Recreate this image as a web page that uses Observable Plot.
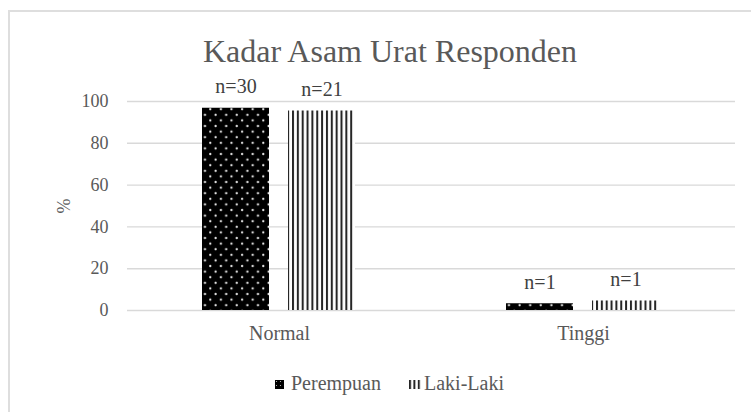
<!DOCTYPE html>
<html>
<head>
<meta charset="utf-8">
<script src="https://cdn.jsdelivr.net/npm/d3@7"></script>
<script src="https://cdn.jsdelivr.net/npm/@observablehq/plot@0.6"></script>
<style>
  html, body { margin: 0; padding: 0; background: #fff; }
  #wrap { position: relative; width: 751px; height: 412px; overflow: hidden; font-family: "Liberation Serif", "Times New Roman", Tinos, "DejaVu Serif", serif; color: #595959; }
  #frame { position: absolute; left: 8px; top: 10px; width: 800px; height: 500px; border: 2px solid #dedede; box-sizing: border-box; }
  #title { position: absolute; left: 0; top: 35px; width: 780px; text-align: center; font-size: 32px; line-height: 32px; color: #595959; }
  #chart { position: absolute; left: 0; top: 0; }
  .leg { position: absolute; top: 373px; font-size: 20px; line-height: 20px; color: #595959; white-space: nowrap; }
  .sw { position: absolute; top: 380px; }
</style>
</head>
<body>
<svg width="0" height="0" style="position:absolute">
  <defs>
    <pattern id="dots" patternUnits="userSpaceOnUse" width="10.6" height="11.2">
      <rect width="10.6" height="11.2" fill="#000"/>
      <circle cx="2.6" cy="2.8" r="1.15" fill="#e6e6e6"/>
      <circle cx="7.9" cy="8.4" r="1.15" fill="#e6e6e6"/>
    </pattern>
    <pattern id="stripes" patternUnits="userSpaceOnUse" width="4.85" height="10">
      <rect width="4.85" height="10" fill="#fff"/>
      <rect x="0" width="2" height="10" fill="#262626"/>
    </pattern>
    <pattern id="dotsSw" patternUnits="userSpaceOnUse" width="4" height="4">
      <rect width="4" height="4" fill="#000"/>
      <circle cx="1.5" cy="1.5" r="0.6" fill="#ccc"/>
    </pattern>
    <pattern id="stripesSw" patternUnits="userSpaceOnUse" width="4.4" height="10">
      <rect width="4.4" height="10" fill="#fff"/>
      <rect x="0" width="2" height="10" fill="#262626"/>
    </pattern>
  </defs>
</svg>
<div id="wrap">
  <div id="frame"></div>
  <div id="chart"></div>
  <div id="title">Kadar Asam Urat Responden</div>
  <svg class="sw" style="left:275px" width="9" height="9"><rect width="9" height="9" fill="url(#dotsSw)"/></svg>
  <div class="leg" style="left:291px">Perempuan</div>
  <svg class="sw" style="left:409px" width="13" height="9"><rect width="13" height="9" fill="url(#stripesSw)"/></svg>
  <div class="leg" style="left:424px">Laki-Laki</div>
</div>
<script>
const categories = ["Normal", "Tinggi"];
const series = ["Perempuan", "Laki-Laki"];
const perempuan = [96.77, 3.23];
const lakiLaki = [95.45, 4.55];
const perempuanN = [30, 1];
const lakiLakiN = [21, 1];
const yTicks = [0, 20, 40, 60, 80, 100];

const rows = categories.flatMap((c, i) => [
  {category: c, series: series[0], value: perempuan[i], n: perempuanN[i]},
  {category: c, series: series[1], value: lakiLaki[i], n: lakiLakiN[i]}
]);

const chart = Plot.plot({
  width: 751,
  height: 412,
  marginLeft: 126,
  marginRight: 16,
  marginTop: 101,
  marginBottom: 102,
  style: {fontFamily: "'Liberation Serif', 'Times New Roman', Tinos, 'DejaVu Serif', serif", fontSize: "18px", color: "#595959", background: "transparent", overflow: "visible"},
  fx: {domain: categories, padding: 0, label: null},
  x: {domain: series, paddingInner: 0.218, paddingOuter: 0.859, axis: null},
  y: {domain: [0, 100], ticks: yTicks, label: "%"},
  color: {domain: series, range: ["url(#dots)", "url(#stripes)"]},
  marks: [
    Plot.ruleY(yTicks, {stroke: "#d9d9d9", strokeWidth: 1.4}),
    Plot.axisY({ticks: yTicks, tickSize: 0, tickPadding: 19, label: "%", labelAnchor: "center", labelArrow: "none", labelOffset: 70, fontSize: 18, fill: "#595959"}),
    Plot.axisFx({anchor: "bottom", tickSize: 0, tickPadding: 15, label: null, fontSize: 20, fill: "#595959"}),
    Plot.barY(rows, {fx: "category", x: "series", y: "value", fill: "series"}),
    Plot.text(rows, {fx: "category", x: "series", y: "value", text: d => "n=" + d.n, dy: -15, lineAnchor: "bottom", fontSize: 20, fill: "#404040"})
  ]
});
document.getElementById("chart").appendChild(chart);
</script>
</body>
</html>
